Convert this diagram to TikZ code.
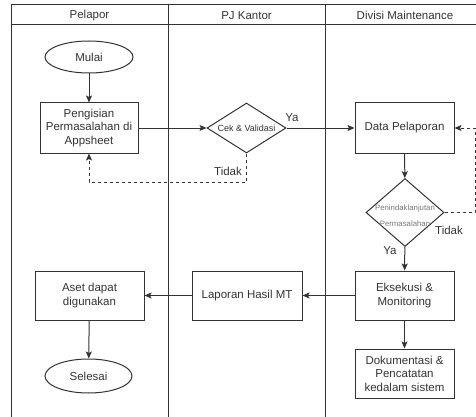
\documentclass[tikz,border=0pt]{standalone}
\usepackage{fontspec}
\setmainfont{Liberation Sans}
\usetikzlibrary{shapes.geometric,arrows.meta}
\definecolor{ln}{HTML}{333333}
\definecolor{tx}{HTML}{333333}
\definecolor{lt}{HTML}{777777}
\begin{document}
\begin{tikzpicture}[x=1pt,y=-1pt,
  every node/.style={text=tx,font=\fontsize{11.5}{13.5}\selectfont},
  proc/.style={draw=ln,line width=1pt,rectangle,align=center,inner sep=0pt},
  term/.style={draw=ln,line width=1pt,ellipse,inner sep=0pt},
  dec/.style={draw=ln,line width=1pt,diamond,inner sep=0pt},
  arr/.style={draw=ln,line width=1pt,-{Stealth[length=7pt,width=6pt,inset=1.5pt]}},
  darr/.style={arr,dash pattern=on 3pt off 3pt},
  lane/.style={draw=ln,line width=1pt},
  lbl/.style={inner sep=0pt}]
\useasboundingbox (0,0) rectangle (476,417);
\begin{scope}
\clip (0,0) rectangle (476,417);
\draw[lane] (11,5) rectangle (485,440);
\draw[lane] (11,25) -- (485,25);
\draw[lane] (168,5) -- (168,440);
\draw[lane] (325,5) -- (325,440);
\end{scope}
\node[lbl] (h1) at (89.5,15.5) {Pelapor};
\node[lbl] (h2) at (246.5,15.5) {PJ Kantor};
\node[lbl] (h3) at (405,15.5) {Divisi Maintenance};

\node[term,minimum width=88pt,minimum height=32pt] (mulai) at (89,57) {Mulai};
\node[proc,minimum width=98pt,minimum height=50pt] (peng) at (89,128) {Pengisian\\Permasalahan di\\Appsheet};
\node[dec,minimum width=79pt,minimum height=50pt,
  label={[lbl,font=\fontsize{9}{10}\selectfont]center:Cek \& Validasi}] (cek) at (246.5,128) {};
\node[proc,minimum width=99pt,minimum height=50pt] (data) at (404.5,128) {Data Pelaporan};
\node[dec,minimum width=78pt,minimum height=68pt] (pen) at (405,212.5) {};
\node[lbl,text=lt,align=center,font=\fontsize{7.8}{16}\selectfont] (pent) at (405,215.5) {Penindaklanjutan\\Permasalahan};
\node[proc,minimum width=99pt,minimum height=49pt] (eks) at (404.5,295.5) {Eksekusi \&\\Monitoring};
\node[proc,minimum width=110pt,minimum height=49pt] (lap) at (247,295.5) {Laporan Hasil MT};
\node[proc,minimum width=109pt,minimum height=49pt] (aset) at (89.5,295.5) {Aset dapat\\digunakan};
\node[term,minimum width=87pt,minimum height=34pt] (selesai) at (88.5,376) {Selesai};
\node[proc,minimum width=99pt,minimum height=49pt] (dok) at (404.5,373.5) {Dokumentasi \&\\Pencatatan\\kedalam sistem};

\coordinate (c1) at (246.5,182);
\coordinate (c2) at (89,182);
\coordinate (c3) at (475,212.5);
\coordinate (c4) at (475,128);

\draw[arr] (mulai) -- (peng);
\draw[arr] (peng) -- (cek);
\draw[arr] (cek) -- (data);
\draw[darr] (cek.south) -- (c1) -- (c2) -- (peng.south);
\draw[arr] (data) -- (pen);
\draw[darr] (pen.east) -- (c3) -- (c4) -- (data.east);
\draw[arr] (pen) -- (eks);
\draw[arr] (eks) -- (lap);
\draw[arr] (lap) -- (aset);
\draw[arr] (aset) -- (selesai);
\draw[arr] (eks) -- (dok);

\node[lbl] (ya1) at (292,118) {Ya};
\node[lbl] (td1) at (228,171) {Tidak};
\node[lbl] (td2) at (449,230) {Tidak};
\node[lbl] (ya2) at (390,251) {Ya};
\end{tikzpicture}
\end{document}
